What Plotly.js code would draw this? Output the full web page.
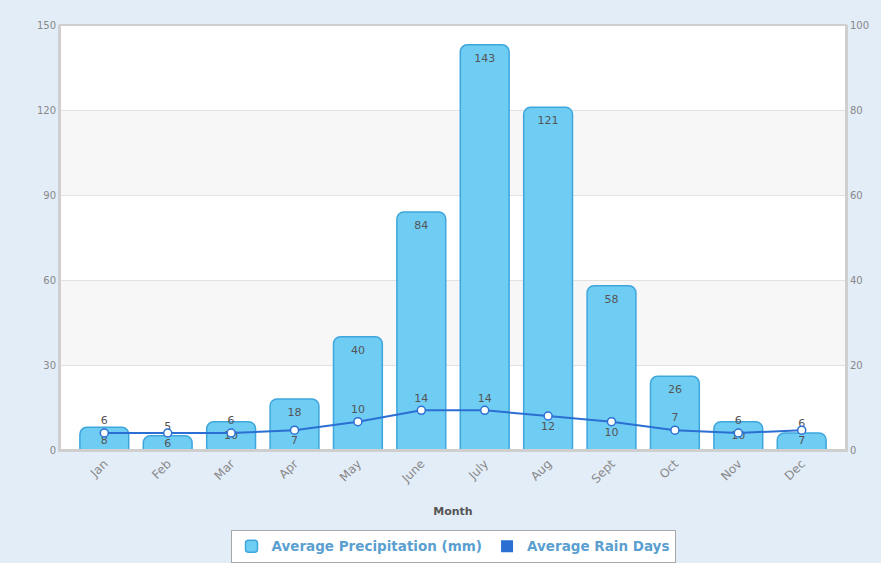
<!DOCTYPE html>
<html>
<head>
<meta charset="utf-8">
<script src="https://cdn.plot.ly/plotly-3.0.1.min.js"></script>
<style>html,body{margin:0;padding:0;background:#e3edf8;}</style>
</head>
<body>
<div id="chart" style="width:881px;height:563px;"></div>
<script>
const months = ["Jan","Feb","Mar","Apr","May","June","July","Aug","Sept","Oct","Nov","Dec"];
const precipitation = [8,5,10,18,40,84,143,121,58,26,10,6];
const rainDays = [6,6,6,7,10,14,14,12,10,7,6,7];
const precipLabelPos = ["inside","outside","inside","inside","inside","inside","inside","inside","inside","inside","inside","outside"];
const rainLabelPos = ["top center","bottom center","top center","bottom center","top center","top center","top center","bottom center","bottom center","top center","top center","bottom center"];

const barTrace = {
  type: "bar", x: months, y: precipitation, name: "Average Precipitation (mm)",
  marker: {color: "#6fcdf4", line: {color: "#3ea6dc", width: 1.5}, cornerradius: 7},
  text: precipitation.map(String), textposition: precipLabelPos, textangle: 0,
  insidetextanchor: "end", constraintext: "none",
  insidetextfont: {family: "DejaVu Sans", size: 11, color: "#555"},
  outsidetextfont: {family: "DejaVu Sans", size: 11, color: "#555"},
  cliponaxis: false, hoverinfo: "skip"
};
const lineTrace = {
  type: "scatter", mode: "lines+markers+text", x: months, y: rainDays,
  name: "Average Rain Days", showlegend: false,
  line: {color: "#2b6fd3", width: 2},
  marker: {size: 8, color: "#ffffff", line: {color: "#2b6fd3", width: 1.5}},
  text: rainDays.map(String), textposition: rainLabelPos,
  textfont: {family: "DejaVu Sans", size: 11, color: "#555"},
  cliponaxis: false, hoverinfo: "skip"
};
const legendTrace = {
  type: "bar", x: [months[0]], y: [0], yaxis: "y2", name: "Average Rain Days",
  marker: {color: "#2b6fd3", line: {width: 0}}, hoverinfo: "skip"
};

const layout = {
  width: 881, height: 563,
  margin: {l: 60, r: 35, t: 25, b: 113, autoexpand: false},
  paper_bgcolor: "#e3edf8", plot_bgcolor: "#ffffff",
  barmode: "overlay", bargap: 0.23,
  font: {family: "DejaVu Sans", size: 10, color: "#888"},
  xaxis: {
    type: "category", tickangle: -45, showgrid: false, automargin: false,
    tickfont: {family: "DejaVu Sans", size: 12, color: "#888"},
    showline: true, linecolor: "#cfcfcf", linewidth: 2, ticks: "",
    title: {text: "<b>Month</b>", font: {family: "DejaVu Sans", size: 11, color: "#555"}, standoff: 22}
  },
  yaxis: {
    range: [0, 150], dtick: 30, gridcolor: "#e2e2e2", zeroline: false, automargin: false,
    showline: true, linecolor: "#cfcfcf", linewidth: 2, ticks: "",
    tickfont: {family: "DejaVu Sans", size: 10, color: "#888"}
  },
  yaxis2: {
    range: [0, 100], dtick: 20, overlaying: "y", side: "right", automargin: false,
    showgrid: false, zeroline: false, showline: true, linecolor: "#cfcfcf", linewidth: 2,
    ticks: "", tickfont: {family: "DejaVu Sans", size: 10, color: "#888"}
  },
  shapes: [
    {type: "rect", xref: "paper", yref: "y", x0: 0, x1: 1, y0: 30, y1: 60, fillcolor: "#f7f7f7", line: {width: 0}, layer: "below"},
    {type: "rect", xref: "paper", yref: "y", x0: 0, x1: 1, y0: 90, y1: 120, fillcolor: "#f7f7f7", line: {width: 0}, layer: "below"},
    {type: "rect", xref: "paper", yref: "paper", x0: 0, x1: 1, y0: 0, y1: 1, line: {color: "#cfcfcf", width: 2}, layer: "above"}
  ],
  showlegend: true,
  legend: {
    orientation: "h", x: 0.5, xanchor: "center", y: -0.188, yanchor: "top",
    bgcolor: "#ffffff", bordercolor: "#a8a8a8", borderwidth: 1, itemwidth: 30,
    font: {family: "DejaVu Sans", size: 13.5, color: "#5b9fd1", weight: "bold"}
  }
};

Plotly.newPlot("chart", [barTrace, lineTrace, legendTrace], layout, {displayModeBar: false, staticPlot: true});
</script>
</body>
</html>
